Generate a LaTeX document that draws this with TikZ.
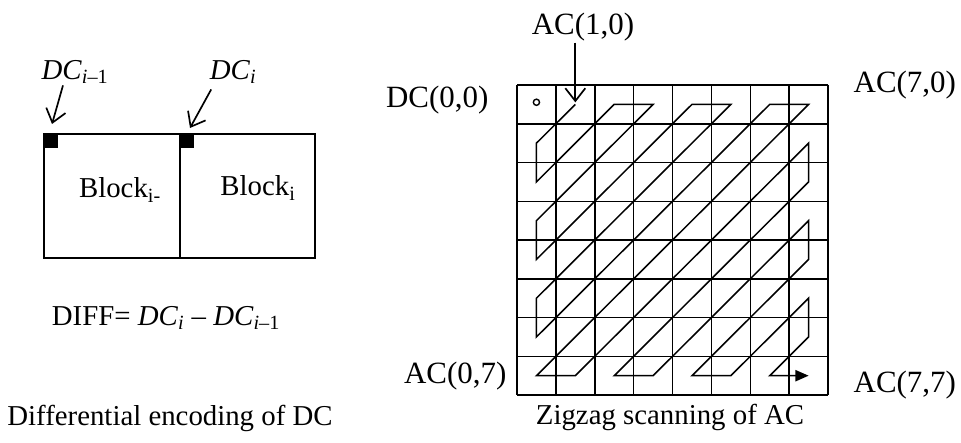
\documentclass[tikz,border=0pt]{standalone}
\usepackage{fontspec}
\setmainfont{Liberation Serif}
\usepackage{tikz}
\usetikzlibrary{arrows.meta,positioning,calc}

\begin{document}
\begin{tikzpicture}[>=Latex,
  lbl/.style={inner sep=1pt,font=\fontsize{20.5}{24}\selectfont},
  lbig/.style={inner sep=1pt,font=\fontsize{22}{26}\selectfont},
  grd/.style={line width=1.1pt},
  blk/.style={line width=1.2pt},
  barb/.style={-{Straight Barb[length=3.2mm,width=5mm]},line width=1.2pt},
  zz/.style={line width=1.1pt,line join=miter,-{Triangle[length=3.3mm,width=2.8mm]}}]
\useasboundingbox (0,0) rectangle (24.025,11.05);
% left: two neighbouring blocks
\begin{scope}
\draw[blk] (1.1,4.6) rectangle (7.875,7.7);
\draw[blk] (4.5,4.6)--(4.5,7.7);
\fill (1.1,7.7) rectangle (1.45,7.35);
\fill (4.5,7.7) rectangle (4.85,7.35);
\node[lbl] (bprev) at (3.0,6.3) {Block\textsubscript{i-}};
\node[lbl] (bcur) at (6.45,6.35) {Block\textsubscript{i}};
\node[lbl] (dcprev) at (1.875,9.25) {\textit{DC}\textsubscript{\textit{i}–1}};
\node[lbl] (dccur) at (5.83,9.25) {\textit{DC}\textsubscript{\textit{i}}};
\coordinate (tprev) at (1.3,7.95);
\coordinate (tcur) at (4.75,7.85);
\draw[barb] ([xshift=-0.3cm]dcprev.south) -- (tprev);
\draw[barb] ([xshift=-0.55cm,yshift=-0.1cm]dccur.south) -- (tcur);
\node[lbl] (diff) at (4.15,3.1) {DIFF= \textit{DC}\textsubscript{\textit{i}} – \textit{DC}\textsubscript{\textit{i}–1}};
\node[lbl] (capl) at (4.25,0.6) {Differential encoding of DC};
\end{scope}
% right: 8x8 block, zigzag order
\begin{scope}[shift={(12.925,8.925)},x=0.972cm,y=-0.969cm]
\foreach \k in {0,...,8} {\draw[grd] (\k,0)--(\k,8); \draw[grd] (0,\k)--(8,\k);}
\foreach \c in {0,...,7} {\foreach \r in {0,...,7} {\coordinate (c-\c-\r) at (\c+0.5,\r+0.5);}}
\draw[line width=1pt] ([yshift=1.5pt]c-0-0) circle (2.2pt);
\draw[zz] (c-1-0)--(c-0-1)--(c-0-2)--(c-2-0)--(c-3-0)--(c-0-3)--(c-0-4)--(c-4-0)--(c-5-0)--(c-0-5)--(c-0-6)--(c-6-0)--(c-7-0)--(c-0-7)
  --(c-1-7)--(c-7-1)--(c-7-2)--(c-2-7)--(c-3-7)--(c-7-3)--(c-7-4)--(c-4-7)--(c-5-7)--(c-7-5)--(c-7-6)--(c-6-7)--(c-7-7);
\end{scope}
\node[lbig] (ac10) at (14.575,10.375) {AC(1,0)};
\draw[barb] (ac10.south -| c-1-0) -- ([yshift=0.05cm]c-1-0);
\node[lbig,anchor=east] (dc00) at (12.25,8.55) {DC(0,0)};
\node[lbig,anchor=east] (ac07) at (12.7,1.65) {AC(0,7)};
\node[lbig,anchor=west] (ac70) at (21.3,8.925) {AC(7,0)};
\node[lbig,anchor=west] (ac77) at (21.3,1.425) {AC(7,7)};
\node[lbl] (capr) at (16.75,0.625) {Zigzag scanning of AC};
\end{tikzpicture}
\end{document}
